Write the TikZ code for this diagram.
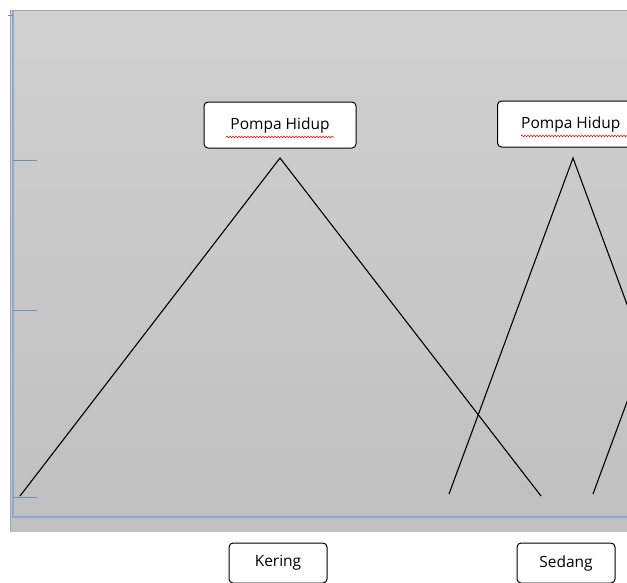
\documentclass[tikz,border=0pt]{standalone}
\usepackage{fontspec}
\setmainfont{Open Sans}
\usetikzlibrary{decorations.pathmorphing,calc}
\definecolor{axisblue}{HTML}{8EA8CF}
\definecolor{tickgray}{HTML}{7A8CA8}
\tikzset{
  lbox/.style={draw=black, fill=white, rounded corners=4pt, line width=1pt, font=\fontsize{15.5}{18}\selectfont, inner sep=0pt},
  mf/.style={line width=1.1pt, black},
  spell/.style={red, line width=0.6pt, decorate, decoration={snake, amplitude=0.7pt, segment length=3pt}},
}
\begin{document}
\begin{tikzpicture}[x=1pt,y=-1pt]
\useasboundingbox (0,0) rectangle (627,582);
\clip (0,0) rectangle (627,582);
\fill[white] (0,0) rectangle (627,582);
% panel
\shade[top color={rgb,255:red,208;green,208;blue,208}, bottom color={rgb,255:red,192;green,192;blue,192}] (10,10) rectangle (640,531);
\draw[gray!70, line width=0.6pt] (10,531) -- (10,10) -- (640,10);
% axes
\draw[axisblue, line width=2pt] (13,10) -- (13,517) -- (640,517);
\foreach \yy in {160,310,497} \draw[tickgray, line width=1pt] (13,\yy) -- (37,\yy);
\draw[tickgray, line width=0.8pt] (8,15) -- (13,15);
% membership functions
\coordinate (k0) at (20,496);
\coordinate (k1) at (280,158);
\coordinate (k2) at (541,496);
\coordinate (s0) at (449,494);
\coordinate (s1) at (573,158);
\coordinate (s2) at (697,494);
\coordinate (t0) at (593,494);
\coordinate (t1) at (717,158);
\draw[mf] (k0) -- (k1) -- (k2);
\draw[mf] (s0) -- (s1) -- (s2);
\draw[mf] (t0) -- (t1);
% labels
\node[lbox, minimum width=152pt, minimum height=46pt] (p1) at (280,125) {Pompa Hidup};
\node[lbox, minimum width=152pt, minimum height=46pt, anchor=west] (p2) at (497,124) {};
\node[font=\fontsize{15.5}{18}\selectfont, inner sep=0pt, anchor=west] (p2t) at (521,124) {Pompa Hidup};
\draw[spell] ($(p1.center)+(-54,12)$) -- ++(108,0);
\draw[spell] ($(p2t.west)+(0,12)$) -- ++(108,0);
\node[lbox, minimum width=98pt, minimum height=40pt] (kr) at (278,563) {Kering};
\node[lbox, minimum width=98pt, minimum height=40pt] (sd) at (566,563) {Sedang};
\end{tikzpicture}
\end{document}
